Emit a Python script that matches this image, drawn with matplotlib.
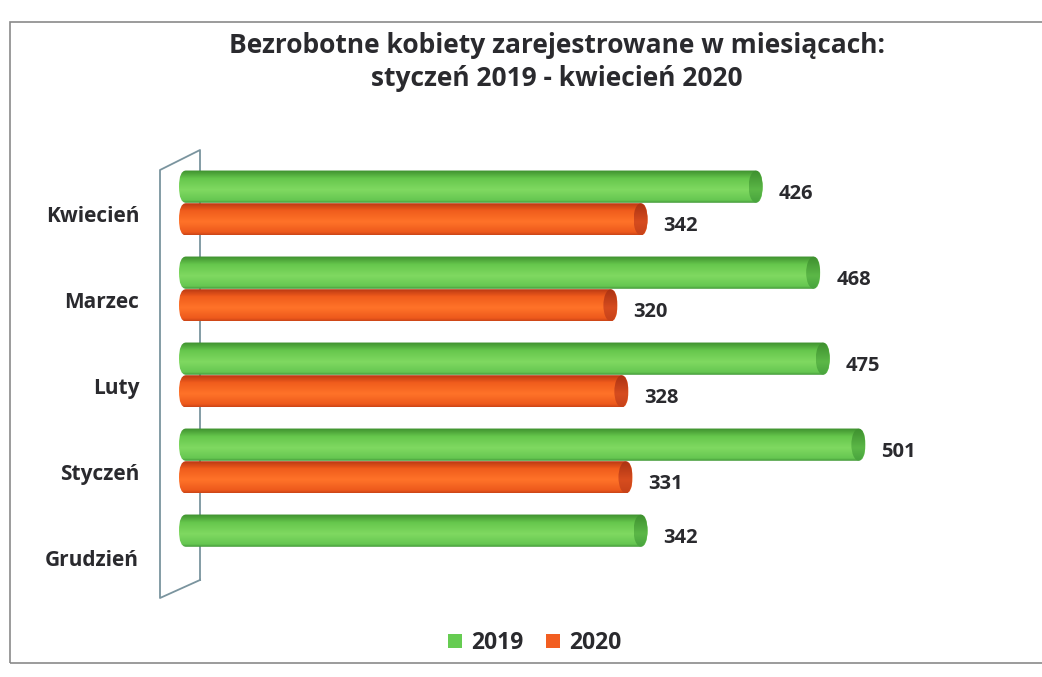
import numpy as np
import matplotlib
matplotlib.use("Agg")
import matplotlib.pyplot as plt
from matplotlib.patches import FancyBboxPatch, Ellipse, Rectangle, Patch
from matplotlib.lines import Line2D
from matplotlib.colors import LinearSegmentedColormap

plt.rcParams['font.family'] = ['Open Sans', 'DejaVu Sans']

# ---- data ----
categories = ["Grudzień", "Styczeń", "Luty", "Marzec", "Kwiecień"]
values_2019 = [342, 501, 475, 468, 426]
values_2020 = [np.nan, 331, 328, 320, 342]
series_names = ["2019", "2020"]
title = "Bezrobotne kobiety zarejestrowane w miesiącach:\nstyczeń 2019 - kwiecień 2020"

TXT = "#2a2a2e"
W, H = 1042, 677
fig = plt.figure(figsize=(W / 100, H / 100), dpi=100)
fig.patch.set_facecolor("white")

# axes placement (pixels)
ax_left, ax_right = 160, 1000
ax_top, ax_bottom = 140, 600
ax = fig.add_axes([ax_left / W, 1 - ax_bottom / H, (ax_right - ax_left) / W, (ax_bottom - ax_top) / H])
ax.set_facecolor("none")

xscale = 1.37  # px per unit
x0px = 179
yspace = 86.0

for s in ax.spines.values():
    s.set_visible(False)
ax.set_xticks([])
ax.tick_params(axis="y", length=0, pad=15)

y = np.arange(len(categories))
bh = 0.375
off = 0.19
bars19 = ax.barh(y + off, values_2019, height=bh, color="none", edgecolor="none")
bars20 = ax.barh(y - off, values_2020, height=bh, color="none", edgecolor="none")

ax.set_yticks(y - 0.13)
ax.set_yticklabels(categories, fontsize=15, fontweight="bold", color=TXT)

green_cmap = LinearSegmentedColormap.from_list("g", [
    (0.0, (0.26, 0.60, 0.22)),
    (0.08, (0.40, 0.78, 0.32)),
    (0.40, (0.50, 0.85, 0.38)),
    (0.75, (0.40, 0.78, 0.30)),
    (1.0, (0.24, 0.56, 0.18)),
])
orange_cmap = LinearSegmentedColormap.from_list("o", [
    (0.0, (0.80, 0.27, 0.09)),
    (0.08, (0.93, 0.35, 0.11)),
    (0.40, (1.00, 0.45, 0.16)),
    (0.75, (0.94, 0.36, 0.11)),
    (1.0, (0.70, 0.20, 0.07)),
])
cap_cmaps = [
    LinearSegmentedColormap.from_list("gc", [(0, (0.28, 0.64, 0.24)), (0.4, (0.36, 0.72, 0.28)), (1, (0.24, 0.56, 0.18))]),
    LinearSegmentedColormap.from_list("oc", [(0, (0.78, 0.26, 0.10)), (0.4, (0.84, 0.30, 0.12)), (1, (0.66, 0.19, 0.07))]),
]

grad = np.linspace(1, 0, 64).reshape(-1, 1)
r_px_x = 7.0
rx = r_px_x / xscale
mut_aspect = (bh / 2) / rx

for bars, cmap, ccmap in [(bars19, green_cmap, cap_cmaps[0]), (bars20, orange_cmap, cap_cmaps[1])]:
    for p in bars.patches:
        w = p.get_width()
        if not np.isfinite(w) or w <= 0:
            continue
        bx, by, bhh = p.get_x(), p.get_y(), p.get_height()
        fb = FancyBboxPatch((bx, by), w, bhh,
                            boxstyle=f"round,pad=0,rounding_size={rx}",
                            mutation_aspect=mut_aspect,
                            facecolor="none", edgecolor="none", zorder=3)
        ax.add_patch(fb)
        im = ax.imshow(grad, cmap=cmap, extent=(bx, bx + w, by, by + bhh),
                       aspect="auto", zorder=3, interpolation="bilinear")
        im.set_clip_path(fb)
        cap = Ellipse((bx + w - rx, by + bhh / 2), 2 * rx, bhh * 0.98,
                      facecolor="none", edgecolor="none", zorder=4)
        ax.add_patch(cap)
        imc = ax.imshow(grad, cmap=ccmap, extent=(bx + w - 2 * rx, bx + w, by, by + bhh),
                        aspect="auto", zorder=4, interpolation="bilinear")
        imc.set_clip_path(cap)
        ax.annotate(f"{int(w)}", xy=(bx + w, by + bhh / 2), xytext=(16, -7),
                    textcoords="offset pixels", ha="left", va="center",
                    fontsize=14.5, fontweight="bold", color=TXT, zorder=5)

ax.set_xlim(-(x0px - ax_left) / xscale, (ax_right - x0px) / xscale)
ax.set_ylim(-(ax_bottom - 547) / yspace, (547 - ax_top) / yspace)

# 3D side wall (decoration), drawn behind the bars
wall_c = (0.48, 0.58, 0.62)
wx = [200, 160, 160, 200, 200]
wy = [580, 598, 170, 150, 580]
ax.add_line(Line2D([v / W for v in wx], [1 - v / H for v in wy],
                   transform=fig.transFigure, color=wall_c, lw=1.3,
                   zorder=1, clip_on=False))

# chart border
fig.add_artist(Rectangle((10 / W, 1 - 663 / H), (W - 8) / W, (663 - 22) / H,
                         transform=fig.transFigure, facecolor="none",
                         edgecolor="#8a8a8a", lw=1.2, zorder=0))

fig.text(557 / W, 1 - 62 / H, title, ha="center", va="center", fontsize=19,
         fontweight="bold", color=TXT, linespacing=1.3)

handles = [Patch(facecolor=(0.40, 0.80, 0.32), edgecolor="none"),
           Patch(facecolor=(0.95, 0.37, 0.13), edgecolor="none")]
fig.legend(handles, series_names, loc="center", bbox_to_anchor=(535 / W, 1 - 643 / H),
           ncol=2, frameon=False, prop={"weight": "bold", "size": 16.5},
           handlelength=0.6, handleheight=0.6, handletextpad=0.4, columnspacing=1.0)
for t in fig.legends[0].get_texts():
    t.set_color(TXT)

fig.savefig("out.png", dpi=100, facecolor="white")
